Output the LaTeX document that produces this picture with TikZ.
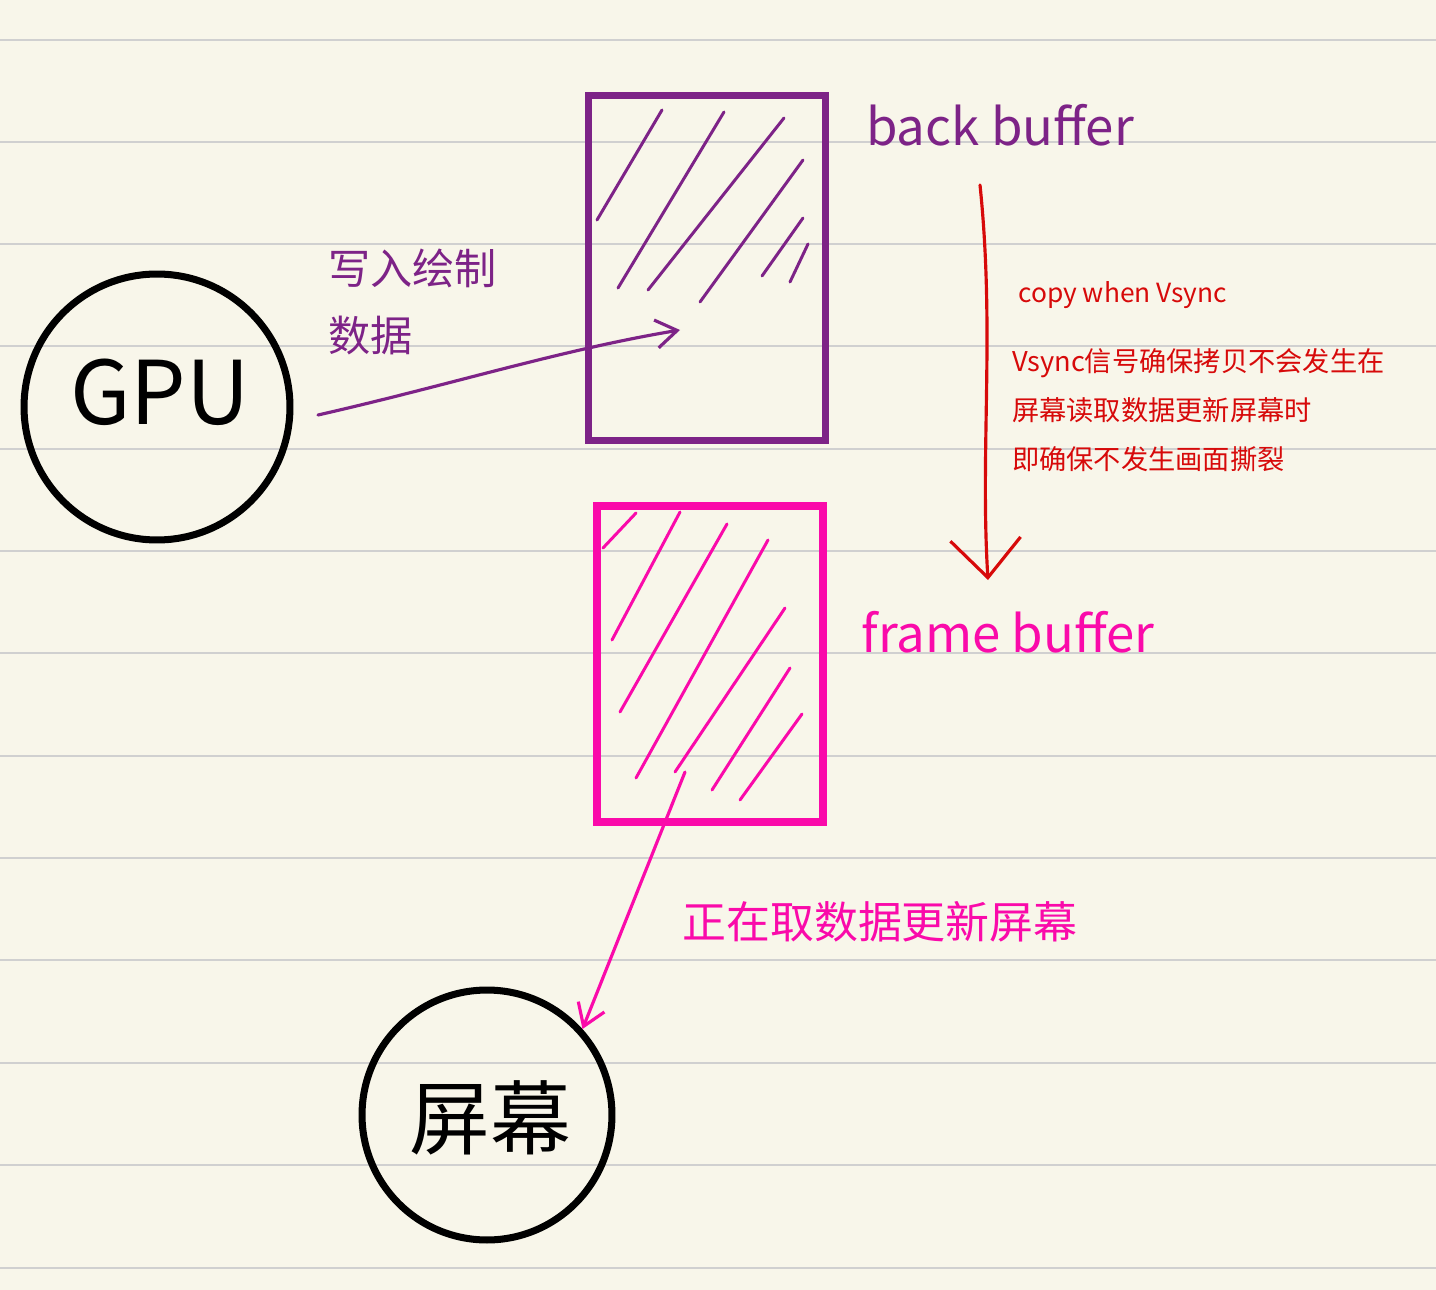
\documentclass[tikz,border=0pt]{standalone}
\usepackage{fontspec}
\setmainfont{Noto Sans CJK SC}
\usepackage{tikz}
\usetikzlibrary{positioning, arrows.meta}

\definecolor{paper}{RGB}{248,246,234}
\definecolor{ruleline}{RGB}{208,208,208}
\definecolor{purpleink}{RGB}{125,35,135}
\definecolor{pinkink}{RGB}{250,10,170}
\definecolor{redink}{RGB}{215,10,10}

\tikzset{
  unitcircle/.style={circle, draw=black, line width=4pt, inner sep=0pt},
  bufferbox/.style={rectangle, line width=4.5pt, inner sep=0pt},
  hatchline/.style={line width=1.7pt, line cap=round},
  inkarrow/.style={line width=1.8pt, line cap=round, -{Straight Barb[length=12pt, width=16pt, line width=1.8pt]}},
}

\begin{document}
\begin{tikzpicture}[x=0.02cm, y=-0.02cm]
    % Paper and ruling
    \fill[paper] (0,0) rectangle (1436,1290);
    \useasboundingbox (0,0) rectangle (1436,1290);
    \foreach \y in {40,142,244,346,449,551,653,756,858,960,1063,1165,1268} {
      \draw[ruleline, line width=1.5pt] (0,\y) -- (1436,\y);
    }

    % Units
    \node[unitcircle, minimum size=5.32cm] (gpu) at (157,407) {};
    \node[font=\fontsize{50}{52}\selectfont] (gpulabel) at (160,392) {GPU};
    \node[unitcircle, minimum size=5cm] (screen) at (487,1115) {};
    \node[font=\fontsize{46}{50}\selectfont] (screenlabel) at (490,1118) {屏幕};

    % Buffers
    \node[bufferbox, draw=purpleink, minimum width=4.74cm, minimum height=6.9cm] (back) at (707,268) {};
    \node[bufferbox, draw=pinkink, minimum width=4.52cm, minimum height=6.32cm] (frame) at (710,664) {};
    \foreach \xa/\ya/\xb/\yb in {597/220/662/110, 618/288/724/112, 648/290/784/118, 700/302/803/160, 762/276/803/218, 790/282/808/244} {
      \draw[hatchline, purpleink] (\xa,\ya) -- (\xb,\yb);
    }
    \foreach \xa/\ya/\xb/\yb in {603/548/636/513, 612/640/680/512, 620/712/727/524, 636/778/768/540, 675/772/785/608, 712/790/790/668, 740/800/802/714} {
      \draw[hatchline, pinkink] (\xa,\ya) -- (\xb,\yb);
    }
    \node[purpleink, font=\fontsize{29}{32}\selectfont] (backlabel) at (1000,125) {back buffer};
    \node[pinkink, font=\fontsize{29}{32}\selectfont] (framelabel) at (1008,632) {frame buffer};

    % GPU writes into back buffer
    \coordinate (writestart) at (318,415);
    \coordinate (writeend) at (680,330);
    \draw[inkarrow, purpleink] (writestart) .. controls (450,385) and (560,350) .. (writeend);
    \node[purpleink, font=\fontsize{24}{38}\selectfont, align=left, anchor=north west] (writelabel) at (322,243) {写入绘制\\数据};

    % Copy on vsync
    \coordinate (copytop) at (980,185);
    \coordinate (copyend) at (988,580);
    \draw[inkarrow, redink, -{Straight Barb[length=22pt, width=40pt, line width=1.8pt]}] (copytop) .. controls (995,330) and (980,450) .. (copyend);
    \node[redink, font=\fontsize{15}{18}\selectfont, anchor=west] (copylabel) at (1012,295) {copy when Vsync};
    \node[redink, font=\fontsize{15.5}{28}\selectfont, align=left, anchor=north west] (vsyncnote) at (1006,342) {Vsync信号确保拷贝不会发生在\\屏幕读取数据更新屏幕时\\即确保不发生画面撕裂};

    % Frame buffer to screen
    \coordinate (scanstart) at (685,772);
    \draw[inkarrow, pinkink] (scanstart) -- (screen.42);
    \node[pinkink, font=\fontsize{25}{28}\selectfont] (scanlabel) at (880,922) {正在取数据更新屏幕};
  \end{tikzpicture}
\end{document}
